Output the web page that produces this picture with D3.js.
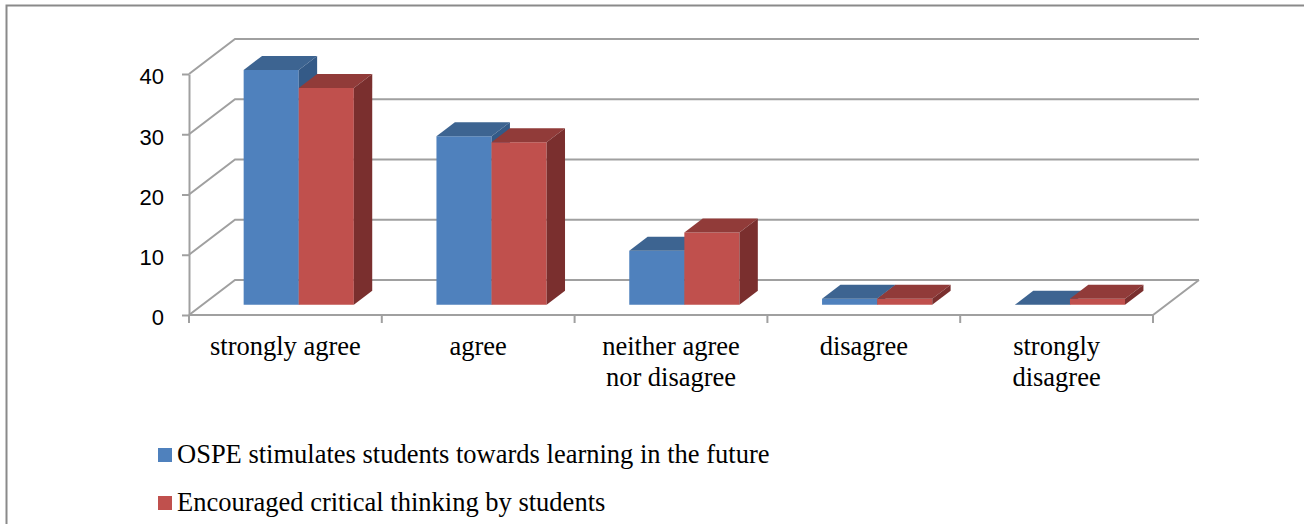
<!DOCTYPE html>
<html>
<head>
<meta charset="utf-8">
<script src="https://cdn.jsdelivr.net/npm/d3@7"></script>
<style>
  html, body { margin: 0; padding: 0; background: #ffffff; }
  svg { display: block; }
</style>
</head>
<body>
<script>
// ---- data ----
const categories = ["strongly agree", "agree", "neither agree nor disagree", "disagree", "strongly disagree"];
const categoryLines = [["strongly agree"], ["agree"], ["neither agree", "nor disagree"], ["disagree"], ["strongly", "disagree"]];
const seriesNames = ["OSPE stimulates students towards learning in the future", "Encouraged critical thinking by students"];
const ospeValues = [39, 28, 9, 1, 0];
const criticalValues = [36, 27, 12, 1, 1];
const yTicks = [0, 10, 20, 30, 40];

// ---- layout / style ----
const W = 1304, H = 524;
const DX = 46, DY = -35;          // floor depth projection
const D0 = 0.29, D1 = 0.69;       // bar depth extent
const gridColor = "#a0a0a0";
const colors = [
  { front: "#4F81BD", top: "#3D6491", side: "#345A87" },
  { front: "#C0504D", top: "#913B39", side: "#7A2F2E" }
];
const serif = "'Liberation Serif', 'Times New Roman', serif";

const svg = d3.select("body").append("svg").attr("width", W).attr("height", H);

// outer frame
svg.append("path").attr("d", "M6.5,524V5.5H1304")
  .attr("fill", "none").attr("stroke", "#8a8a8a").attr("stroke-width", 2);

const y = d3.scaleLinear().domain([0, 40]).range([315, 74]);
const x0 = d3.scaleBand().domain(categories).range([189, 1153]).paddingInner(0).paddingOuter(0);
const x1 = d3.scaleBand().domain(seriesNames).range([0, x0.bandwidth()]).paddingInner(0).paddingOuter(0.75);
const proj = (x, v, d) => [x + d * DX, y(v) + d * DY];
const xL = x0.range()[0], xR = x0.range()[1];

// walls
const walls = svg.append("g").attr("fill", "none").attr("stroke", gridColor).attr("stroke-width", 2);
yTicks.forEach(t => {
  walls.append("path").attr("d", d3.line()([proj(xL, t, 0), proj(xL, t, 1), proj(xR, t, 1)]));
});
// floor
walls.append("path").attr("d", d3.line()([proj(xL, 0, 0), proj(xR, 0, 0), proj(xR, 0, 1)]));
// category ticks
[...categories.map(c => x0(c)), xR].forEach(bx => {
  walls.append("line").attr("x1", bx).attr("x2", bx).attr("y1", y(0)).attr("y2", y(0) + 8);
});

// y axis
const yAxis = svg.append("g").attr("transform", `translate(${xL},0)`)
  .call(d3.axisLeft(y).tickValues(yTicks).tickSize(7).tickSizeOuter(0).tickPadding(18));
yAxis.select(".domain").attr("stroke", gridColor).attr("stroke-width", 2);
yAxis.selectAll(".tick line").attr("stroke", gridColor).attr("stroke-width", 2);
yAxis.selectAll(".tick text")
  .attr("font-family", "'Liberation Sans', Arial, sans-serif")
  .attr("font-size", 22).attr("fill", "#000").attr("dy", "0.45em");

// bars
const seriesValues = [ospeValues, criticalValues];
const bars = svg.append("g");
categories.forEach((cat, i) => {
  seriesNames.forEach((s, si) => {
    const v = seriesValues[si][i];
    const xl = x0(cat) + x1(s), w = x1.bandwidth(), xr = xl + w;
    const c = colors[si];
    const poly = pts => d3.line()(pts) + "Z";
    bars.append("path").attr("fill", c.front)
      .attr("d", poly([proj(xl, 0, D0), proj(xr, 0, D0), proj(xr, v, D0), proj(xl, v, D0)]));
    bars.append("path").attr("fill", c.top)
      .attr("d", poly([proj(xl, v, D0), proj(xr, v, D0), proj(xr, v, D1), proj(xl, v, D1)]));
    bars.append("path").attr("fill", c.side)
      .attr("d", poly([proj(xr, 0, D0), proj(xr, v, D0), proj(xr, v, D1), proj(xr, 0, D1)]));
  });
});

function sText(g, x, yy, str, anchor) {
  g.append("text").attr("x", x).attr("y", yy).attr("text-anchor", anchor)
    .attr("font-family", serif).attr("font-size", 26.5).attr("fill", "#000")
    .text(str);
}

// category labels
const labels = svg.append("g");
categories.forEach((cat, i) => {
  const cx = x0(cat) + x0.bandwidth() / 2;
  categoryLines[i].forEach((ln, j) => sText(labels, cx, 355 + j * 31, ln, "middle"));
});

// legend
const legend = svg.append("g");
seriesNames.forEach((s, si) => {
  const yy = 448 + si * 48;
  legend.append("rect").attr("x", 158).attr("y", yy).attr("width", 14).attr("height", 14)
    .attr("fill", colors[si].front);
  sText(legend, 177, yy + 15, s, "start");
});
</script>
</body>
</html>
